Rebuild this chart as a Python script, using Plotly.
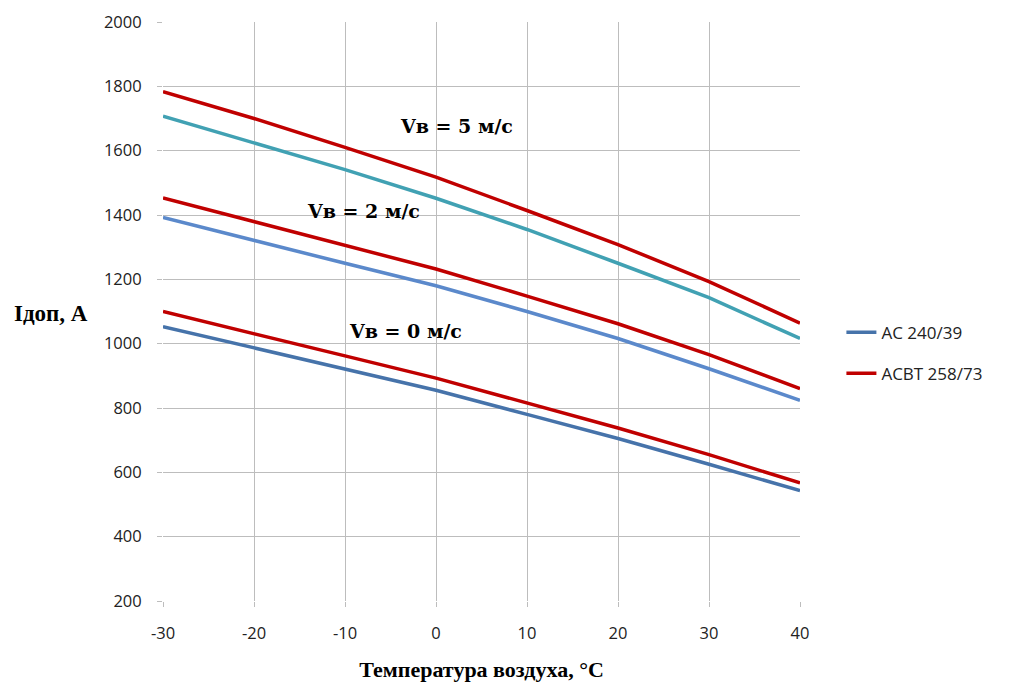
import plotly.graph_objects as go

temps = [-30, -20, -10, 0, 10, 20, 30, 40]
temp_labels = ["-30", "-20", "-10", "0", "10", "20", "30", "40"]

ac_v0 = [1053, 987, 921, 855, 780, 705, 625, 543]
acsbt_v0 = [1100, 1030, 962, 893, 815, 738, 655, 567]
ac_v2 = [1392, 1320, 1250, 1180, 1100, 1016, 922, 824]
acsbt_v2 = [1453, 1380, 1307, 1232, 1148, 1062, 966, 860]
ac_v5 = [1707, 1625, 1541, 1452, 1355, 1250, 1143, 1016]
acsbt_v5 = [1783, 1700, 1610, 1518, 1414, 1308, 1193, 1064]

series = [
    ("AC 240/39", ac_v0, "#4673AA", True),
    ("ACBT 258/73", acsbt_v0, "#C00000", True),
    ("AC 240/39", ac_v2, "#5B89CB", False),
    ("ACBT 258/73", acsbt_v2, "#C00000", False),
    ("AC 240/39", ac_v5, "#41A1B3", False),
    ("ACBT 258/73", acsbt_v5, "#C00000", False),
]

labels = [
    ("Vв = 5 м/с", 2.3, 1676),
    ("Vв = 2 м/с", -8.0, 1411),
    ("Vв = 0 м/с", -3.4, 1038),
]

fig = go.Figure()
for name, vals, color, show in series:
    fig.add_trace(go.Scatter(
        x=temps, y=vals, mode="lines", name=name,
        line=dict(color=color, width=3.5),
        showlegend=show, legendgroup=name,
    ))

for text, x, y in labels:
    fig.add_annotation(x=x, y=y, text=f"<b>{text}</b>", showarrow=False,
                       font=dict(family="DejaVu Serif", size=19, color="black"))

fig.add_annotation(xref="paper", yref="paper", x=-0.237, y=0.497, xanchor="left",
                   text="<b>Iдоп, А</b>", showarrow=False,
                   font=dict(family="Liberation Serif", size=23, color="black"))

tick_font = dict(family="Open Sans", size=16.5, color="#222")

fig.update_layout(
    width=1018, height=682,
    margin=dict(l=163, r=218, t=22, b=81, autoexpand=False),
    plot_bgcolor="white", paper_bgcolor="white",
    xaxis=dict(
        range=[-30, 40], tickvals=temps, ticktext=temp_labels,
        showgrid=True, gridcolor="#BDBDBD", automargin=False,
        gridwidth=1, zeroline=False, ticks="outside", ticklen=5,
        tickcolor="#BDBDBD", tickfont=tick_font, ticklabelstandoff=12,
        title=dict(text="<b>Температура воздуха, °С</b>",
                   font=dict(family="Liberation Serif", size=22, color="black"),
                   standoff=18),
    ),
    yaxis=dict(
        range=[200, 2000], dtick=200, showgrid=True, gridcolor="#BDBDBD",
        gridwidth=1, zeroline=False, ticks="outside", ticklen=5, automargin=False,
        tickcolor="#BDBDBD", tickfont=tick_font, ticklabelstandoff=12,
    ),
    legend=dict(x=1.065, y=0.428, xanchor="left", yanchor="middle",
                font=dict(family="Open Sans", size=17, color="#222"),
                tracegroupgap=16, traceorder="grouped"),
)

fig.write_html("out.html")
